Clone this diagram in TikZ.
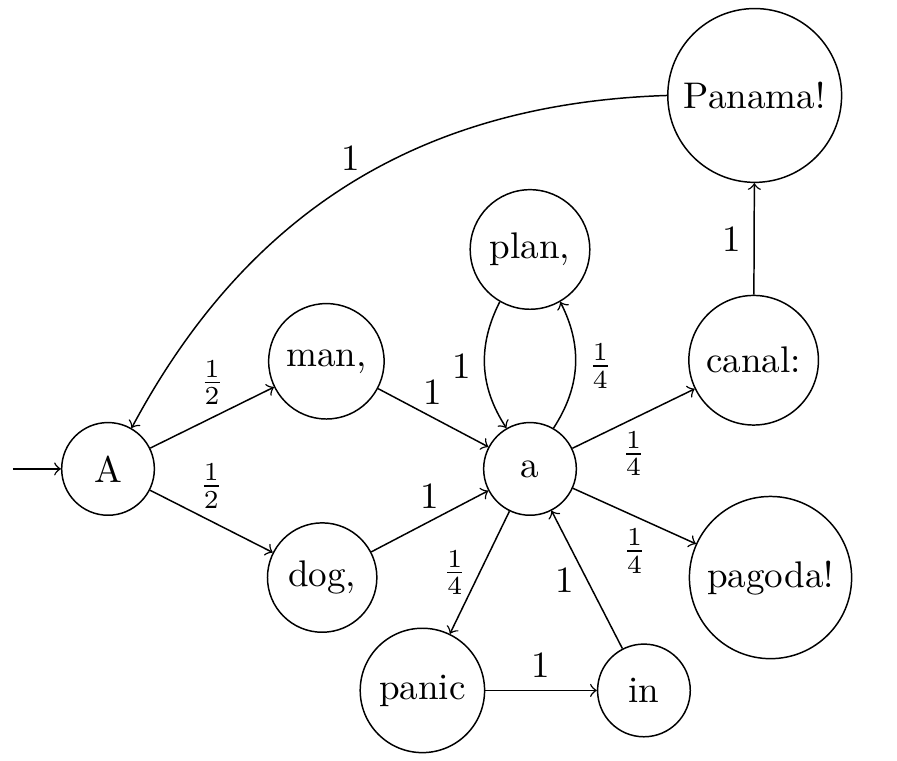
\documentclass[tikz,border=0pt]{standalone}
\usepackage{tikz}
\usetikzlibrary{arrows,automata}

\begin{document}
\begin{tikzpicture}[->,node distance=4cm,initial text=]
  \useasboundingbox (-1.024,-2.768) rectangle (7.479,4.445);
  \node[initial,state] 		(A)                   	 	{A};
  \node[state]         			(a) [right of=A] 	{a};
  \node[state]         			(man) at (2.07,1.02) 	{man,};
  \node[state]         			(dog) at (2.03,-1.03) 	{dog,};
  \node[state]         			(plan) at (4,2.08) 	{plan,};
  \node[state]         			(canal) at (6.12,1.03) 	{canal:};
  \node[state]         			(pagoda) at (6.28,-1.03) 	{pagoda!};
  \node[state]         			(panic) at (2.98,-2.10) 	{panic};
  \node[state]         			(in) at (5.08,-2.10) 	{in};
  \node[state]         			(panama) at (6.13,3.54) 	{Panama!};

  \path 	(A) edge node [above] {$\frac{1}{2}$} (man)
		(A) edge node [above] {$\frac{1}{2}$} (dog)
		(man) edge node [above] {1} (a)
		(dog) edge node [above] {1} (a)
		(plan) edge [bend right] node [left] {1} (a)
		(a) edge [bend right] node [right] {$\frac{1}{4}$} (plan)
		(a) edge node [below] {$\frac{1}{4}$} (canal)
		(a) edge node [below] {$\frac{1}{4}$} (pagoda)
		(a) edge node [left] {$\frac{1}{4}$} (panic)
		(panic) edge node [above] {1} (in)
		(in) edge node [left] {1} (a)
		(canal) edge node [left] {1} (panama)
		(panama) edge [bend right] node [above] {1} (A);
\end{tikzpicture}
\end{document}
